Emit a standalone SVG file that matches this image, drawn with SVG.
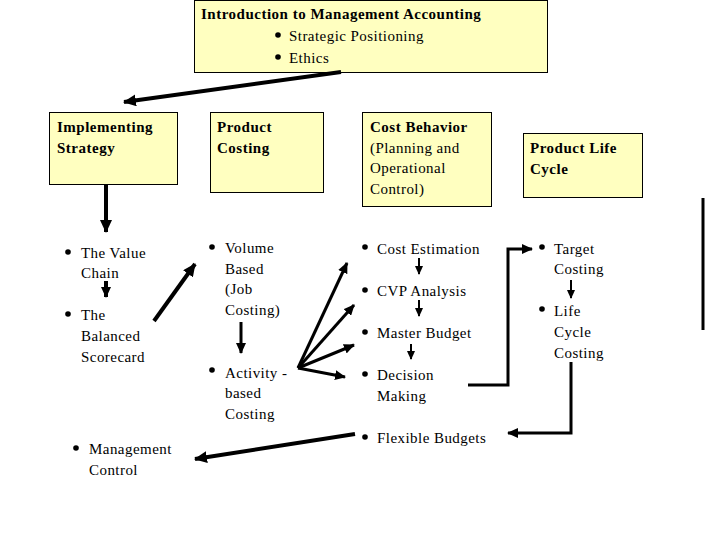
<svg xmlns="http://www.w3.org/2000/svg" width="720" height="540" viewBox="0 0 720 540">
<style>
text{font-family:"Liberation Serif","Times New Roman",serif;font-size:15px;fill:#000;letter-spacing:0.45px}
.b{font-weight:bold;letter-spacing:0.5px}
.box{fill:#FFFFC0;stroke:#000;stroke-width:1}
.thick{stroke:#000;stroke-width:4;fill:none}
.mid{stroke:#000;stroke-width:3;fill:none}
.thin{stroke:#000;stroke-width:2;fill:none}
</style>
<defs>
<marker id="hb" markerUnits="userSpaceOnUse" markerWidth="14" markerHeight="12" refX="12" refY="6" orient="auto"><path d="M0,0 L13,6 L0,12 z" fill="#000"/></marker>
<marker id="hm" markerUnits="userSpaceOnUse" markerWidth="12" markerHeight="10" refX="10" refY="5" orient="auto"><path d="M0,0 L11,5 L0,10 z" fill="#000"/></marker>
<marker id="hs" markerUnits="userSpaceOnUse" markerWidth="10" markerHeight="8" refX="8" refY="4" orient="auto"><path d="M0,0 L9,4 L0,8 z" fill="#000"/></marker>
</defs>
<rect width="720" height="540" fill="#fff"/>

<g id="intro">
<rect class="box" x="194.5" y="0.5" width="353" height="72"/>
<text class="b" x="201" y="19">Introduction to Management Accounting</text>
<circle cx="278" cy="35" r="2.8"/>
<text x="289" y="41">Strategic Positioning</text>
<circle cx="278" cy="57" r="2.8"/>
<text x="289" y="63">Ethics</text>
</g>

<g id="implementing">
<rect class="box" x="49.5" y="112.5" width="128" height="72"/>
<text class="b" x="57" y="132">Implementing</text>
<text class="b" x="57" y="153">Strategy</text>
</g>

<g id="product-costing">
<rect class="box" x="210.5" y="112.5" width="113" height="80"/>
<text class="b" x="217" y="132">Product</text>
<text class="b" x="217" y="153">Costing</text>
</g>

<g id="cost-behavior">
<rect class="box" x="362.5" y="112.5" width="129" height="94"/>
<text class="b" x="370" y="132">Cost Behavior</text>
<text x="370" y="153">(Planning and</text>
<text x="370" y="173">Operational</text>
<text x="370" y="194">Control)</text>
</g>

<g id="product-life-cycle">
<rect class="box" x="523.5" y="133.5" width="119" height="64"/>
<text class="b" x="530" y="153">Product Life</text>
<text class="b" x="530" y="174">Cycle</text>
</g>

<g id="value-chain">
<circle cx="68" cy="252" r="2.8"/>
<text x="81" y="258">The Value</text>
<text x="81" y="278">Chain</text>
</g>
<g id="balanced-scorecard">
<circle cx="68" cy="314" r="2.8"/>
<text x="81" y="320">The</text>
<text x="81" y="341">Balanced</text>
<text x="81" y="362">Scorecard</text>
</g>
<g id="management-control">
<circle cx="76" cy="448" r="2.8"/>
<text x="89" y="454">Management</text>
<text x="89" y="475">Control</text>
</g>
<g id="volume-based">
<circle cx="212" cy="247" r="2.8"/>
<text x="225" y="253">Volume</text>
<text x="225" y="274">Based</text>
<text x="225" y="294">(Job</text>
<text x="225" y="315">Costing)</text>
</g>
<g id="activity-based">
<circle cx="212" cy="370" r="2.8"/>
<text x="225" y="378">Activity  -</text>
<text x="225" y="398">based</text>
<text x="225" y="419">Costing</text>
</g>
<g id="cost-estimation">
<circle cx="365" cy="247" r="2.8"/>
<text x="377" y="254">Cost Estimation</text>
</g>
<g id="cvp-analysis">
<circle cx="365" cy="290" r="2.8"/>
<text x="377" y="296">CVP Analysis</text>
</g>
<g id="master-budget">
<circle cx="365" cy="332" r="2.8"/>
<text x="377" y="338">Master Budget</text>
</g>
<g id="decision-making">
<circle cx="365" cy="374" r="2.8"/>
<text x="377" y="380">Decision</text>
<text x="377" y="401">Making</text>
</g>
<g id="flexible-budgets">
<circle cx="365" cy="437" r="2.8"/>
<text x="377" y="443">Flexible Budgets</text>
</g>
<g id="target-costing">
<circle cx="542" cy="247" r="2.8"/>
<text x="554" y="254">Target</text>
<text x="554" y="274">Costing</text>
</g>
<g id="life-cycle-costing">
<circle cx="542" cy="309" r="2.8"/>
<text x="554" y="316">Life</text>
<text x="554" y="337">Cycle</text>
<text x="554" y="358">Costing</text>
</g>

<g id="connectors">
<line class="thick" x1="341" y1="72" x2="124" y2="102" marker-end="url(#hb)"/>
<line class="thick" x1="106" y1="184" x2="106" y2="232" marker-end="url(#hb)"/>
<line class="thick" x1="106" y1="281" x2="106" y2="297" marker-end="url(#hm)"/>
<line class="thick" x1="154" y1="321" x2="195" y2="264" marker-end="url(#hb)"/>
<line class="mid" x1="241" y1="322" x2="241" y2="353" marker-end="url(#hm)"/>
<line class="mid" x1="298" y1="368" x2="347" y2="263" marker-end="url(#hm)"/>
<line class="mid" x1="298" y1="368" x2="354" y2="305" marker-end="url(#hm)"/>
<line class="mid" x1="298" y1="368" x2="354" y2="345" marker-end="url(#hm)"/>
<line class="mid" x1="298" y1="368" x2="345" y2="377" marker-end="url(#hm)"/>
<line class="thin" x1="419" y1="258" x2="419" y2="274" marker-end="url(#hs)"/>
<line class="thin" x1="419" y1="300" x2="419" y2="316" marker-end="url(#hs)"/>
<line class="thin" x1="411" y1="344" x2="411" y2="359" marker-end="url(#hs)"/>
<polyline class="mid" points="468,385 508,385 508,249 532,249" marker-end="url(#hm)"/>
<line class="thin" x1="571" y1="280" x2="571" y2="298" marker-end="url(#hs)"/>
<polyline class="mid" points="571,362 571,433 508,433" marker-end="url(#hm)"/>
<line class="thick" x1="355" y1="434" x2="195" y2="459" marker-end="url(#hb)"/>
<line class="mid" x1="703" y1="198" x2="703" y2="330"/>
</g>
</svg>
